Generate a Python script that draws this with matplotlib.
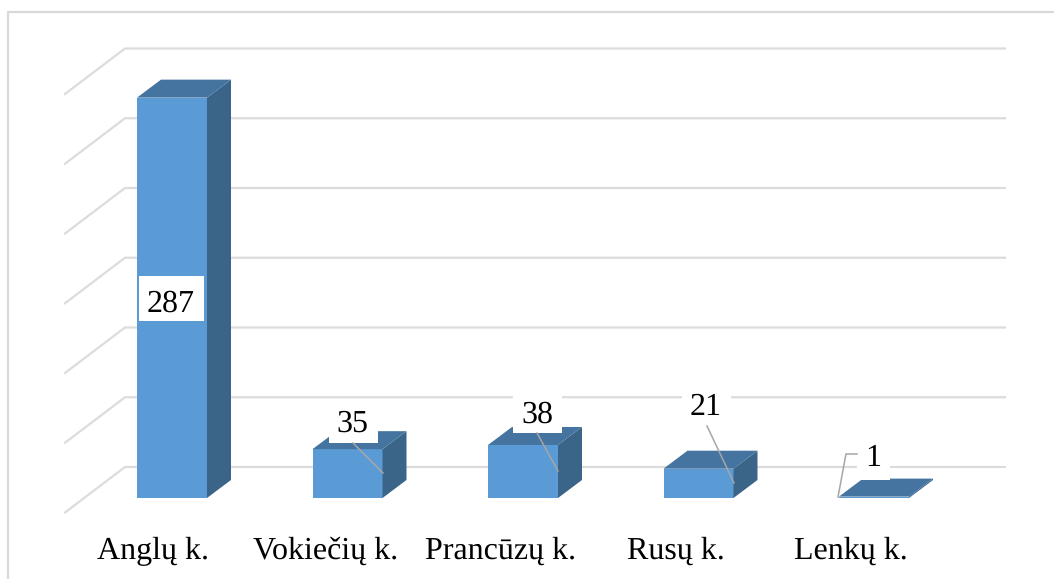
import matplotlib
matplotlib.use("Agg")
import matplotlib.pyplot as plt
from matplotlib.patches import Polygon, Rectangle

categories = ["Anglų k.", "Vokiečių k.", "Prancūzų k.", "Rusų k.", "Lenkų k."]
values = [287, 35, 38, 21, 1]
grid_values = [0, 50, 100, 150, 200, 250, 300]

# pixel layout of the 3d look
X0, STEP = 172, 175.5
Y0, UNIT = 498, 1.395


def px(x, y):
    return (x - X0) / STEP, (Y0 - y) / UNIT


plt.rcParams["font.family"] = ["Liberation Serif", "DejaVu Serif"]
plt.rcParams["text.hinting"] = "none"
fig = plt.figure(figsize=(10.54, 5.79), dpi=100)
ax = fig.add_axes([0, 0, 1, 1])
ax.set_xlim(px(0, 0)[0], px(1054, 0)[0])
ax.set_ylim(px(0, 579)[1], px(0, 0)[1])
ax.axis("off")

# outer frame, runs off the picture right and bottom
ax.plot(*zip(px(7.5, 579), px(7.5, 12), px(1054, 12)), color="#D9D9D9", lw=1.6, zorder=1)

# gridlines: floor/side part and back wall
wall_dy = 31 / UNIT
side_dy = -14.5 / UNIT
for v in grid_values:
    xs = [px(65, 0)[0], px(125, 0)[0], px(1005, 0)[0]]
    ys = [v + side_dy, v + wall_dy, v + wall_dy]
    ax.plot(xs, ys, color="#DCDCDC", lw=1.6, zorder=1, solid_joinstyle="miter")

# bars
width = 70 / STEP
dx = 24 / STEP
dy = 18 / UNIT
positions = list(range(len(values)))
ax.bar(positions, values, width=width, color="#5B9BD5", zorder=3)
for pos, val in zip(positions, values):
    left = pos - width / 2
    right = pos + width / 2
    top = [(left, val), (left + dx, val + dy), (right + dx, val + dy), (right, val)]
    side = [(right, 0), (right + dx, dy), (right + dx, val + dy), (right, val)]
    ax.add_patch(Polygon(side, closed=True, color="#3A6589", lw=0, zorder=3))
    ax.add_patch(Polygon(top, closed=True, color="#44749F", lw=0, zorder=4))

# data labels: white box, text, leader line
boxes = [(139, 276, 204, 321), (329, 405, 378, 443), (513, 393, 562, 433),
         (682, 385, 731, 425), (857, 440, 890, 480)]
baselines = [312, 432, 423, 415, 466]
centers = [171, 352, 537, 706, 873]
leaders = [None,
           [(353, 443), (383, 473)],
           [(537, 433), (558, 471)],
           [(707, 426), (734, 483)],
           [(857, 454), (846, 454), (838, 497)]]
for val, box, base, cx, lead in zip(values, boxes, baselines, centers, leaders):
    x1, y1 = px(box[0], box[3])
    x2, y2 = px(box[2], box[1])
    ax.add_patch(Rectangle((x1, y1), x2 - x1, y2 - y1, color="white", lw=0, zorder=5))
    tx, ty = px(cx, base)
    ax.text(tx, ty, str(val), fontsize=23, ha="center", va="baseline", color="black", zorder=6)
    if lead:
        ax.plot(*zip(*[px(*p) for p in lead]), color="#A6A6A6", lw=1.1, zorder=6)

# category labels
label_x = [153, 326, 501, 676, 851]
for name, lx in zip(categories, label_x):
    tx, ty = px(lx, 559)
    ax.text(tx, ty, name, fontsize=23, ha="center", va="baseline", color="black")

fig.savefig("out.png", dpi=100)
